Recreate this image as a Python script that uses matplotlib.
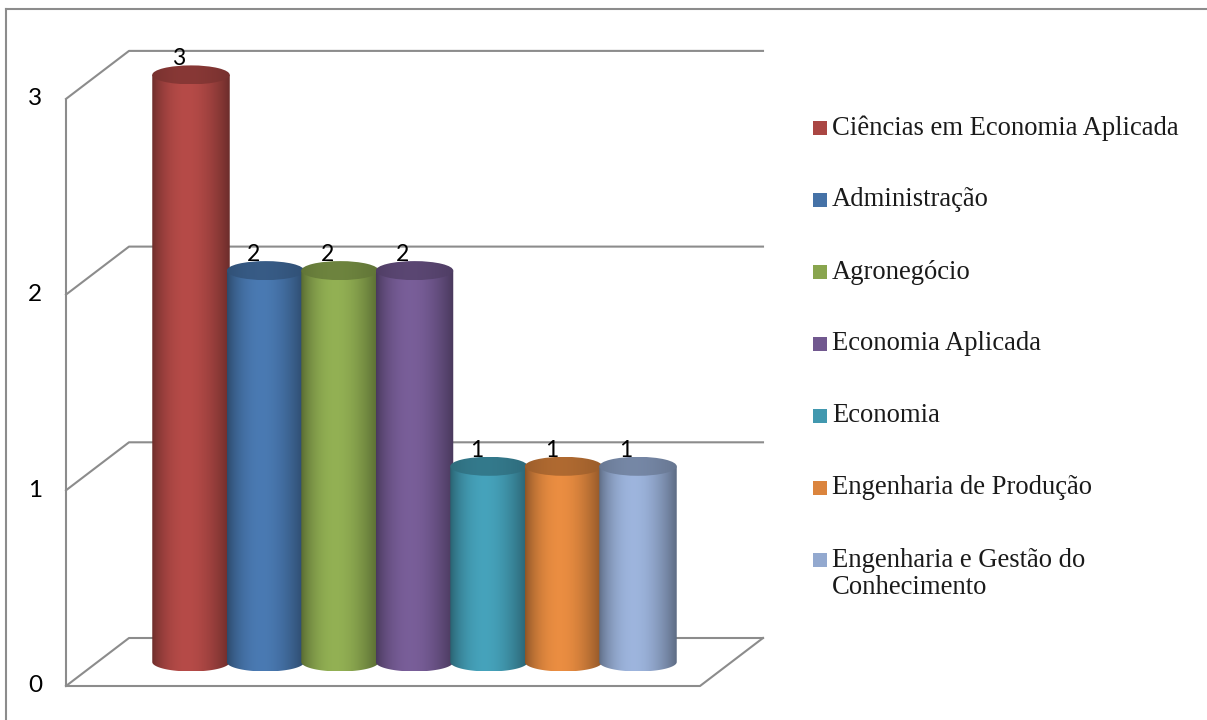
import numpy as np
import matplotlib
matplotlib.use("Agg")
import matplotlib.pyplot as plt
from matplotlib.patches import Ellipse, Polygon, Rectangle
from matplotlib.lines import Line2D
from matplotlib.colors import to_rgb

# ---------------- data ----------------
categories = ["Ciências em Economia Aplicada", "Administração", "Agronegócio",
              "Economia Aplicada", "Economia", "Engenharia de Produção",
              "Engenharia e Gestão do\nConhecimento"]
values = [3, 2, 2, 2, 1, 1, 1]
colors = ["#AA4643", "#4572A7", "#89A54E", "#71588F", "#4198AF", "#DB843D", "#93A9CF"]
y_ticks = [0, 1, 2, 3]

# ---------------- layout ----------------
W, H = 1207, 720
fig = plt.figure(figsize=(W / 100, H / 100), dpi=100)
ax = fig.add_axes([0, 0, 1, 1])
ax.axis("off")

PX_CAT = 74.5      # pixels per category
PX_VAL = 195.7     # pixels per value unit
X0 = 191           # pixel x of first bar centre
Y0 = 686           # pixel y of front floor line
XMIN, XMAX = -X0 / PX_CAT, (W - X0) / PX_CAT
YMIN, YMAX = (Y0 - H) / PX_VAL, Y0 / PX_VAL


def px2d(px, py):
    return (px - X0) / PX_CAT, (Y0 - py) / PX_VAL


DX = 63 / PX_CAT          # depth offset (category units)
DY = 48 / PX_VAL          # depth offset (value units)
x_fl = px2d(66, 0)[0]     # front-left corner
x_fr = px2d(700, 0)[0]    # front-right corner of floor
grid_c = "#8c8c8c"
lw = 1.5
vmax = max(y_ticks)

# left wall vertical axis
ax.plot([x_fl, x_fl], [0, vmax], color=grid_c, lw=lw, zorder=1, solid_capstyle="butt")
# gridlines: side wall diagonal + back wall horizontal
for v in y_ticks:
    ax.plot([x_fl, x_fl + DX, x_fr + DX], [v, v + DY, v + DY], color=grid_c, lw=lw, zorder=1)
    ax.text(px2d(35, 0)[0], v, str(v), ha="center", va="center", fontsize=17.5,
            family="Lato", color="black")
# floor
ax.plot([x_fl, x_fr, x_fr + DX], [0, 0, DY], color=grid_c, lw=lw, zorder=1)

# ---------------- cylinders ----------------
N = 300
t = np.linspace(0, 1, N)
prof = 0.63 + 0.44 * np.sin(np.pi * t ** 0.85) ** 0.9
a = 1.04 / 2              # half width (category units)
b = 9.5 / PX_VAL          # ellipse half height (value units)
base = DY / 2

for i, (v, c) in enumerate(zip(values, colors)):
    rgb = np.array(to_rgb(c))
    xc = i
    yt = base + v
    z = 3 + i * 0.1
    th = np.linspace(np.pi, 2 * np.pi, 80)
    pts = np.column_stack([xc + a * np.cos(th), base + b * np.sin(th)])
    pts = np.vstack([pts, [[xc + a, yt], [xc - a, yt]]])
    body = Polygon(pts, closed=True, transform=ax.transData)
    img = np.clip(rgb[None, None, :] * prof[None, :, None], 0, 1)
    im = ax.imshow(img, extent=[xc - a, xc + a, base - b, yt], aspect="auto",
                   interpolation="bilinear", zorder=z)
    im.set_clip_path(body)
    # top face
    top = Ellipse((xc, yt), 2 * a, 2 * b, transform=ax.transData)
    prof_top = 0.70 + 0.1 * np.sin(np.pi * t ** 0.85)
    img_t = np.clip(rgb[None, None, :] * prof_top[None, :, None], 0, 1)
    im2 = ax.imshow(img_t, extent=[xc - a, xc + a, yt - b, yt + b], aspect="auto",
                    interpolation="bilinear", zorder=z + 0.01)
    im2.set_clip_path(top)
    # data label
    ax.text(xc - 12 / PX_CAT, v + DY - 8 / PX_VAL, str(v), ha="center", va="center",
            fontsize=16.5, family="Lato", color="black", zorder=10)

# ---------------- legend ----------------
for k, (lab, c) in enumerate(zip(categories, colors)):
    cy = 128 + 72 * k
    x1, y1 = px2d(813, cy + 7)
    x2, y2 = px2d(827, cy - 7)
    ax.add_patch(Rectangle((x1, y1), x2 - x1, y2 - y1, facecolor=c, edgecolor="none", zorder=5))
    nlines = lab.count("\n") + 1
    tx, ty = px2d(832, cy + (nlines - 1) * 28 / 2)
    ax.text(tx, ty, lab, ha="left", va="center", fontsize=19.2,
            family="Liberation Serif", color="#1a1a1a", zorder=5, linespacing=1.08)

# outer frame
fig.add_artist(Line2D([6 / W, 6 / W], [0, 1 - 9 / H], transform=fig.transFigure,
                      color="#8c8c8c", lw=1.5))
fig.add_artist(Line2D([6 / W, 1], [1 - 9 / H, 1 - 9 / H], transform=fig.transFigure,
                      color="#8c8c8c", lw=1.5))

ax.set_xlim(XMIN, XMAX)
ax.set_ylim(YMIN, YMAX)
fig.savefig("out.png", dpi=100, facecolor="white")
